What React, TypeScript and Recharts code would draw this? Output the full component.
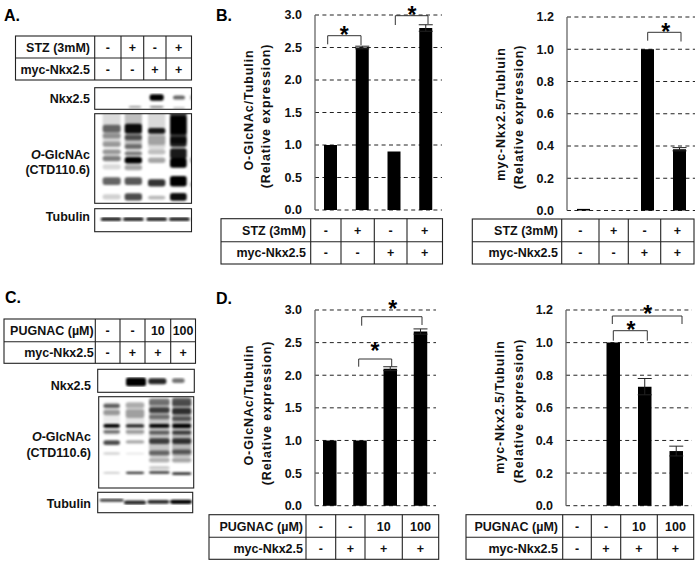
import React from "react";
import { BarChart, Bar, XAxis, YAxis, CartesianGrid, ErrorBar } from "recharts";

const FONT = "'Liberation Sans', Arial, sans-serif";

// ---- chart data ----
const categories = ["a", "b", "c", "d"];
const glcTicks = [0, 0.5, 1, 1.5, 2, 2.5, 3];
const nkxTicks = [0, 0.2, 0.4, 0.6, 0.8, 1, 1.2];
const bGlc = [1.0, 2.5, 0.9, 2.8];
const bGlcErr = [0, 0.02, 0, 0.05];
const bNkx = [0.01, 0, 1.0, 0.38];
const bNkxErr = [0, 0, 0, 0.01];
const dGlc = [1.0, 1.0, 2.1, 2.67];
const dGlcErr = [0, 0, 0.03, 0.04];
const dNkx = [0, 1.0, 0.73, 0.335];
const dNkxErr = [0, 0, 0.05, 0.03];

// ---- table labels ----
const stzRow = ["-", "+", "-", "+"];
const mycRowA = ["-", "-", "+", "+"];
const pugRow = ["-", "-", "10", "100"];
const mycRowC = ["-", "+", "+", "+"];

const table = (vals: number[], errs: number[]) =>
  categories.map((cat, i) => ({ cat, value: vals[i], err: errs[i] }));

function Plot({ left, top, w, h, vals, errs, ticks, max, barSize }: any) {
  const L = 40;
  const T = 10;
  return (
    <div style={{ position: "absolute", left: left - L, top: top - T }}>
      <BarChart
        width={L + w + 1}
        height={T + h + 8}
        data={table(vals, errs)}
        margin={{ top: T, right: 1, bottom: 8, left: 0 }}
        barCategoryGap={0}
      >
        <CartesianGrid vertical={false} stroke="#222" strokeWidth={1} strokeDasharray="4 3.4" />
        <XAxis dataKey="cat" tick={false} tickLine={false} height={0} stroke="#333" axisLine={{ stroke: "#333", strokeWidth: 1.2 }} />
        <YAxis
          width={L}
          domain={[0, max]}
          ticks={ticks}
          interval={0}
          tickLine={false}
          tickSize={0}
          tickMargin={13}
          axisLine={{ stroke: "#666", strokeWidth: 1.3 }}
          tickFormatter={(v: number) => v.toFixed(1)}
          tick={{ fontFamily: FONT, fontSize: 12.5, fontWeight: 700, fill: "#111" }}
        />
        <Bar dataKey="value" fill="#000" barSize={barSize} isAnimationActive={false}>
          <ErrorBar dataKey="err" direction="y" width={7} stroke="#222" strokeWidth={1} isAnimationActive={false} />
        </Bar>
      </BarChart>
    </div>
  );
}

function Grid({ x0, x1, y0, y1, ym, cols, label1, label2, labelX, row1, row2 }: any) {
  const edges = [...cols, x1];
  const t = { fontFamily: FONT, fontWeight: 700, fontSize: 12.5, fill: "#111" } as const;
  return (
    <g>
      <rect x={x0} y={y0} width={x1 - x0} height={y1 - y0} fill="#fff" stroke="#222" strokeWidth={1.1} />
      <line x1={x0} x2={x1} y1={ym} y2={ym} stroke="#222" strokeWidth={1.1} />
      {cols.map((c: number) => (
        <line key={c} x1={c} x2={c} y1={y0} y2={y1} stroke="#222" strokeWidth={1.1} />
      ))}
      <text x={labelX} y={(y0 + ym) / 2 + 4.5} textAnchor="end" {...t}>{label1}</text>
      <text x={labelX} y={(ym + y1) / 2 + 4.5} textAnchor="end" {...t}>{label2}</text>
      {row1.map((s: string, i: number) => (
        <text key={i} x={(edges[i] + edges[i + 1]) / 2} y={(y0 + ym) / 2 + 4.5} textAnchor="middle" {...t}>{s}</text>
      ))}
      {row2.map((s: string, i: number) => (
        <text key={i} x={(edges[i] + edges[i + 1]) / 2} y={(ym + y1) / 2 + 4.5} textAnchor="middle" {...t}>{s}</text>
      ))}
    </g>
  );
}

function Bracket({ x1, x2, y, yl, yr, sx, sy }: any) {
  return (
    <g>
      <path d={`M${x1} ${yl}V${y}H${x2}V${yr}`} fill="none" stroke="#333" strokeWidth={1} />
      <text x={sx} y={sy + 12.5} textAnchor="middle" fontFamily={FONT} fontWeight={700} fontSize={23} fill="#000">*</text>
    </g>
  );
}

function YTitle({ x1, x2, cy1, cy2, a }: any) {
  const t = { fontFamily: FONT, fontWeight: 700, fontSize: 12.5, fill: "#111", textAnchor: "middle" } as const;
  return (
    <g>
      <text transform={`translate(${x1} ${cy1}) rotate(-90)`} letterSpacing={0.9} {...t}>{a}</text>
      <text transform={`translate(${x2} ${cy2}) rotate(-90)`} letterSpacing={0.9} {...t}>(Relative expression)</text>
    </g>
  );
}

// blot bands: y, height, darkness in a 3x frame
type Lane = { x: number; w: number; b: number[][] };
const nkxA: Lane[] = [
  { x: 405, w: 38, b: [[320, 3, 0.6]] },
  { x: 470, w: 42, b: [[292, 18, 1], [320, 4, 0.55]] },
  { x: 537, w: 36, b: [[292, 11, 0.6], [323, 3, 0.35]] },
  { x: 573, w: 4, b: [[292, 14, 0.5]] },
];
const glcA: Lane[] = [
  { x: 335, w: 54, b: [[375, 130, 0.14], [385, 22, 0.55], [407, 15, 0.35], [432, 15, 0.3], [455, 15, 0.4], [475, 15, 0.5], [500, 15, 0.15], [543, 22, 0.6], [590, 15, 0.18]] },
  { x: 400, w: 52, b: [[375, 135, 0.25], [385, 28, 0.95], [412, 15, 0.6], [440, 15, 0.45], [460, 12, 0.5], [480, 18, 1], [502, 15, 0.35], [543, 22, 0.65], [590, 20, 0.7]] },
  { x: 470, w: 52, b: [[385, 120, 0.15], [392, 16, 0.9], [420, 28, 0.25], [455, 15, 0.25], [480, 15, 0.35], [548, 20, 0.8], [592, 10, 0.28]] },
  { x: 535, w: 50, b: [[345, 170, 0.75], [375, 55, 1], [425, 30, 0.85], [460, 30, 0.9], [488, 28, 1], [543, 30, 1], [590, 22, 0.95]] },
  { x: 573, w: 4, b: [[480, 16, 0.5], [553, 14, 0.45]] },
];
const tubA: Lane[] = [
  { x: 333, w: 62, b: [[657, 10, 0.85]] },
  { x: 400, w: 62, b: [[657, 10, 0.85]] },
  { x: 470, w: 62, b: [[657, 10, 0.85]] },
  { x: 538, w: 62, b: [[657, 10, 0.85]] },
];
const nkxC: Lane[] = [
  { x: 408, w: 60, b: [[290, 25, 1]] },
  { x: 472, w: 54, b: [[288, 17, 0.85]] },
  { x: 535, w: 38, b: [[286, 13, 0.55]] },
];
const glcC: Lane[] = [
  { x: 335, w: 50, b: [[400, 100, 0.08], [362, 12, 0.6], [382, 15, 0.35], [422, 10, 1], [440, 8, 0.55], [472, 13, 0.7], [505, 6, 0.18], [563, 3, 0.3]] },
  { x: 405, w: 56, b: [[400, 100, 0.1], [360, 15, 0.25], [385, 25, 0.3], [422, 9, 0.85], [440, 8, 0.35], [470, 9, 0.35], [505, 4, 0.1], [563, 5, 0.8]] },
  { x: 478, w: 62, b: [[430, 170, 0.22], [350, 20, 0.45], [375, 16, 0.7], [395, 13, 0.45], [422, 10, 1], [442, 10, 0.55], [468, 16, 0.7], [503, 13, 0.5], [525, 13, 0.3], [548, 10, 0.2], [562, 6, 0.8]] },
  { x: 545, w: 58, b: [[430, 170, 0.28], [350, 25, 0.6], [378, 18, 0.75], [400, 13, 0.55], [422, 12, 1], [442, 10, 0.7], [468, 16, 0.75], [500, 13, 0.55], [525, 13, 0.35], [565, 7, 0.8]] },
];
const tubC: Lane[] = [
  { x: 335, w: 72, b: [[645, 8, 0.75]] },
  { x: 405, w: 66, b: [[652, 11, 0.85]] },
  { x: 475, w: 66, b: [[650, 10, 0.85]] },
  { x: 543, w: 66, b: [[650, 11, 1]] },
];

function Blot({ x0, x1, y0, y1, yOff, lanes }: any) {
  return (
    <g>
      <svg x={x0} y={y0} width={x1 - x0} height={y1 - y0} style={{ overflow: "hidden" }}>
        <g filter="url(#blur)" transform={`translate(${-x0} ${-y0})`}>
          {lanes.flatMap((l: Lane, i: number) =>
            l.b.map((b, j) => (
              <rect
                key={`${i}-${j}`}
                x={(l.x - l.w / 2) / 3}
                y={yOff + (b[0] - b[1] / 2) / 3}
                width={l.w / 3}
                height={b[1] / 3 + 0.4}
                rx={2.5}
                ry={Math.min(2, b[1] / 6)}
                fill="#000"
                opacity={b[2]}
              />
            ))
          )}
        </g>
      </svg>
      <rect x={x0} y={y0} width={x1 - x0} height={y1 - y0} fill="none" stroke="#222" strokeWidth={1.1} />
    </g>
  );
}

function Label({ x, y, children }: any) {
  return (
    <text x={x} y={y} textAnchor="end" fontFamily={FONT} fontWeight={700} fontSize={12.5} fill="#111">{children}</text>
  );
}

function Panel({ x, y, children }: any) {
  return (
    <text x={x} y={y} fontFamily={FONT} fontWeight={700} fontSize={16} fill="#000">{children}</text>
  );
}

export default function App() {
  return (
    <div style={{ position: "absolute", left: 0, top: 0, width: 699, height: 564, background: "#fff", overflow: "hidden" }}>
      <Plot left={314.7} top={15} w={127} h={195} vals={bGlc} errs={bGlcErr} ticks={glcTicks} max={3} barSize={13} />
      <Plot left={566.7} top={16.5} w={128} h={193.5} vals={bNkx} errs={bNkxErr} ticks={nkxTicks} max={1.2} barSize={13} />
      <Plot left={315} top={310.3} w={121} h={195.7} vals={dGlc} errs={dGlcErr} ticks={glcTicks} max={3} barSize={13.5} />
      <Plot left={565.7} top={310.3} w={126} h={195.7} vals={dNkx} errs={dNkxErr} ticks={nkxTicks} max={1.2} barSize={13.5} />

      <svg width={699} height={564} style={{ position: "absolute", left: 0, top: 0 }}>
        <defs>
          <filter id="blur" x="-5%" y="-5%" width="110%" height="110%">
            <feGaussianBlur stdDeviation="1.3" />
          </filter>
        </defs>

        <Panel x={4} y={21}>A.</Panel>
        <Panel x={216} y={21}>B.</Panel>
        <Panel x={5} y={303}>C.</Panel>
        <Panel x={216} y={304}>D.</Panel>

        <Grid x0={15.5} x1={191.5} y0={36} y1={80} ym={58} cols={[94.7, 121, 143.7, 166]} label1="STZ (3mM)" label2="myc-Nkx2.5" labelX={90} row1={stzRow} row2={mycRowA} />
        <Blot x0={94.7} x1={191.5} y0={87.7} y1={109.3} yOff={0} lanes={nkxA} />
        <Blot x0={94.7} x1={191.5} y0={113.7} y1={203.3} yOff={0} lanes={glcA} />
        <Blot x0={94.7} x1={191.5} y0={208.7} y1={231.7} yOff={0} lanes={tubA} />
        <Label x={90} y={103}>Nkx2.5</Label>
        <text x={90} y={159} textAnchor="end" fontFamily={FONT} fontWeight={700} fontSize={12.5} fill="#111"><tspan fontStyle="italic">O</tspan>-GlcNAc</text>
        <Label x={90} y={174}>(CTD110.6)</Label>
        <Label x={90} y={221}>Tubulin</Label>

        <Grid x0={4} x1={195.5} y0={319} y1={363.3} ym={341.7} cols={[95.3, 120, 145, 170.7]} label1="PUGNAC (µM)" label2="myc-Nkx2.5" labelX={93.7} row1={pugRow} row2={mycRowC} />
        <Blot x0={97.7} x1={194.3} y0={369.3} y1={392.3} yOff={285} lanes={nkxC} />
        <Blot x0={98.7} x1={193.7} y0={396.7} y1={488} yOff={285} lanes={glcC} />
        <Blot x0={97.7} x1={192.7} y0={492.3} y1={512.7} yOff={285} lanes={tubC} />
        <Label x={91} y={389.5}>Nkx2.5</Label>
        <text x={91} y={440.5} textAnchor="end" fontFamily={FONT} fontWeight={700} fontSize={12.5} fill="#111"><tspan fontStyle="italic">O</tspan>-GlcNAc</text>
        <Label x={91} y={457}>(CTD110.6)</Label>
        <Label x={91} y={507.5}>Tubulin</Label>

        <Grid x0={221} x1={442.5} y0={218.7} y1={264} ym={241.7} cols={[310.7, 341, 374.3, 407]} label1="STZ (3mM)" label2="myc-Nkx2.5" labelX={306} row1={stzRow} row2={mycRowA} />
        <Grid x0={472.3} x1={694} y0={219} y1={264} ym={241.7} cols={[561.7, 599, 628.3, 660.7]} label1="STZ (3mM)" label2="myc-Nkx2.5" labelX={558} row1={stzRow} row2={mycRowA} />
        <Grid x0={209} x1={438.7} y0={514.7} y1={559.3} ym={537.3} cols={[306, 335.7, 365, 402.3]} label1="PUGNAC (µM)" label2="myc-Nkx2.5" labelX={303} row1={pugRow} row2={mycRowC} />
        <Grid x0={466} x1={693.7} y0={514.7} y1={559.3} ym={537.3} cols={[562.7, 591.3, 620.7, 657.3]} label1="PUGNAC (µM)" label2="myc-Nkx2.5" labelX={558} row1={pugRow} row2={mycRowC} />

        <YTitle x1={253} x2={270} cy1={110} cy2={116} a="O-GlcNAc/Tubulin" />
        <YTitle x1={505} x2={523} cy1={114} cy2={117} a="myc-Nkx2.5/Tubluin" />
        <YTitle x1={253} x2={270.5} cy1={405} cy2={413} a="O-GlcNAc/Tubulin" />
        <YTitle x1={504} x2={522.5} cy1={407} cy2={411} a="myc-Nkx2.5/Tubulin" />

        <Bracket x1={327.7} x2={361} y={35.7} yl={44.3} yr={45} sx={344.3} sy={30} />
        <Bracket x1={395.3} x2={428} y={15.7} yl={25} yr={24} sx={412} sy={10} />
        <Bracket x1={647.7} x2={681} y={32.3} yl={40.7} yr={41.5} sx={665.7} sy={27.7} />
        <Bracket x1={358.7} x2={391.7} y={359} yl={366.7} yr={366.7} sx={375} sy={346.7} />
        <Bracket x1={361.7} x2={422} y={316.7} yl={325.7} yr={325} sx={392.7} sy={304.3} />
        <Bracket x1={613.3} x2={647.3} y={330.7} yl={340.7} yr={340.7} sx={631} sy={325} />
        <Bracket x1={612.3} x2={682} y={316} yl={324} yr={324} sx={647.7} sy={309.3} />
      </svg>
    </div>
  );
}
